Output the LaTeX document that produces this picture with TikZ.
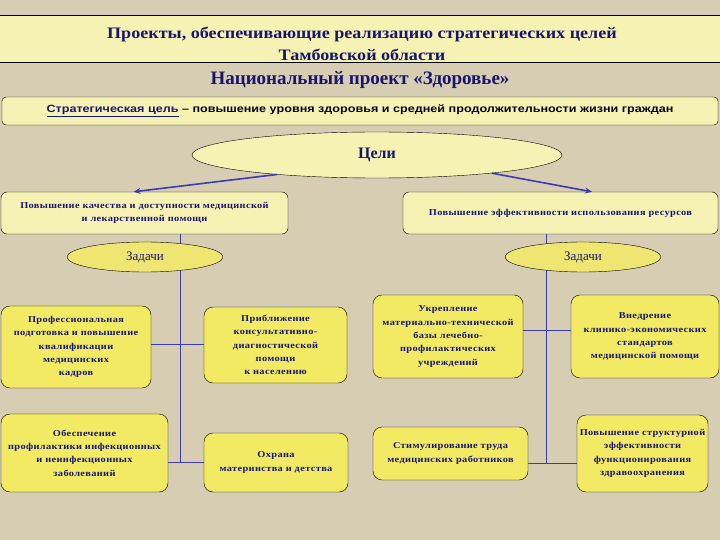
\documentclass[tikz,border=0pt]{standalone}
\usepackage{fontspec}
\setmainfont{Liberation Serif}
\newfontfamily\titlefont[FakeStretch=1.13]{Liberation Serif}
\newfontfamily\boxfont[FakeStretch=1.15,LetterSpace=4]{Liberation Serif}
\newfontfamily\bandfont[FakeStretch=1.2]{Liberation Sans}
\usepackage{tikz}
\usetikzlibrary{arrows.meta, positioning, shapes.geometric}
\usepackage{xcolor}
\definecolor{bgbeige}{RGB}{214,205,178}
\definecolor{paleyel}{RGB}{246,242,180}
\definecolor{taskyel}{RGB}{242,234,98}
\definecolor{ovalyel}{RGB}{238,230,112}
\definecolor{navy}{RGB}{22,22,112}
\definecolor{linkblue}{RGB}{60,60,175}
\pgfdeclarelayer{back}
\pgfsetlayers{back,main}

\begin{document}
\begin{tikzpicture}[x=1pt, y=-1pt,
    task/.style={draw, rounded corners=9pt, fill=taskyel, text=navy, align=center, inner sep=0pt,
        font=\boxfont\bfseries\fontsize{9}{13.3}\selectfont},
    goal/.style={draw, rounded corners=6pt, fill=paleyel, text=navy, align=center, inner sep=0pt,
        minimum height=42pt, font=\boxfont\bfseries\fontsize{9}{12.5}\selectfont},
    oval/.style={draw, ellipse, inner sep=0pt, text=navy},
    arr/.style={-{Stealth[length=7pt,width=6pt]}, line width=1.6pt, draw=linkblue},
    link/.style={draw=linkblue, line width=0.9pt}
]
\useasboundingbox (0,0) rectangle (720,540);
\begin{pgfonlayer}{back}
\fill[bgbeige] (0,0) rectangle (720,540);
\end{pgfonlayer}

% header
\node[draw, fill=paleyel, minimum width=724pt, minimum height=47pt, inner sep=0pt] (head) at (360,38.5) {};
\node[text=navy, align=center, font=\titlefont\bfseries\fontsize{16}{22}\selectfont] (title) at (362,44)
    {Проекты, обеспечивающие реализацию стратегических целей\\Тамбовской области};
\node[text=navy, font=\bfseries\fontsize{19}{22}\selectfont] (nat) at (360,79.5) {Национальный проект «Здоровье»};
\node[draw, rounded corners=4pt, fill=paleyel, minimum width=716pt, minimum height=28pt, inner sep=0pt,
    font=\bandfont\bfseries\fontsize{10.5}{12}\selectfont, text={black!85!navy}] (band) at (360,111)
    {\textcolor{navy}{\underline{Стратегическая цель}} – повышение уровня здоровья и средней продолжительности жизни граждан};

% goals
\node[oval, fill=paleyel, minimum width=370pt, minimum height=46pt, font=\bfseries\fontsize{16}{18}\selectfont] (cel) at (377,155) {Цели};
\node[goal, minimum width=287pt] (g1) at (144.5,213) {Повышение качества и доступности медицинской\\и лекарственной помощи};
\node[goal, minimum width=315pt] (g2) at (560.5,213) {Повышение эффективности использования ресурсов};
\draw[arr] (cel.191) -- ([xshift=-11pt]g1.north);
\draw[arr] (cel.351) -- ([xshift=31.5pt]g2.north);

% tasks
\node[oval, fill=ovalyel, minimum width=156pt, minimum height=30pt, font=\fontsize{13}{15}\selectfont] (zl) at (145,257) {Задачи};
\node[oval, fill=ovalyel, minimum width=156pt, minimum height=30pt, font=\fontsize{13}{15}\selectfont] (zr) at (583,257) {Задачи};

\node[task, minimum width=150pt, minimum height=82pt] (a1) at (76,347) {Профессиональная\\подготовка и повышение\\квалификации\\медицинских\\кадров};
\node[task, minimum width=143pt, minimum height=76pt] (b1) at (275.5,345) {Приближение\\консультативно-\\диагностической\\помощи\\к населению};
\node[task, minimum width=167pt, minimum height=78pt] (c1) at (84.5,453) {Обеспечение\\профилактики инфекционных\\и неинфекционных\\заболеваний};
\node[task, minimum width=144pt, minimum height=59pt] (d1) at (276,462.5) {Охрана\\материнства и детства};
\node[task, minimum width=150pt, minimum height=83pt] (e2) at (448,336.5) {Укрепление\\материально-технической\\базы лечебно-\\профилактических\\учреждений};
\node[task, minimum width=148pt, minimum height=83pt] (f2) at (645,336.5) {Внедрение\\клинико-экономических\\стандартов\\медицинской помощи};
\node[task, minimum width=155pt, minimum height=53pt] (g2t) at (450.5,453.5) {Стимулирование труда\\медицинских работников};
\node[task, minimum width=131pt, minimum height=77pt] (h2) at (642.5,453.5) {Повышение структурной\\эффективности\\функционирования\\здравоохранения};

% connectors
\coordinate (jl1) at (180,344);
\coordinate (jl2) at (180,462);
\coordinate (jr1) at (546,330);
\coordinate (jr2) at (546,463);
\begin{pgfonlayer}{back}
\draw[link] (g1.south -| jl1) -- (jl2);
\draw[link] (g2.south -| jr1) -- (jr2);
\end{pgfonlayer}
\draw[link] (a1.east |- jl1) -- (b1.west |- jl1);
\draw[link] (c1.east |- jl2) -- (d1.west |- jl2);
\draw[link] (e2.east |- jr1) -- (f2.west |- jr1);
\draw[link] (g2t.east |- jr2) -- (h2.west |- jr2);
\end{tikzpicture}
\end{document}
